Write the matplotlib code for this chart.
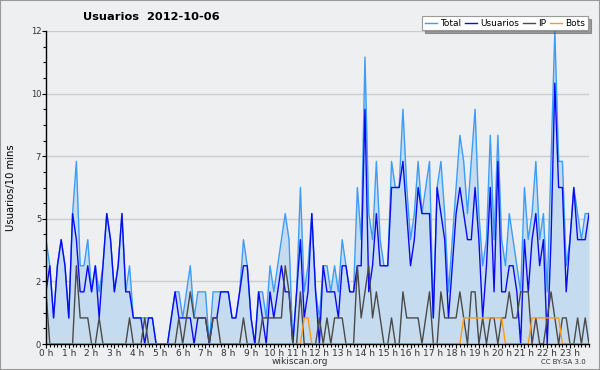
import matplotlib
matplotlib.use("Agg")
import matplotlib.pyplot as plt
import numpy as np

# values per 10 minutes, 144 slots over the day (24 per row = 4 hours)
usuarios = [2, 3, 1, 3, 4, 3, 1, 5, 4, 2, 2, 3, 2, 3, 1, 3, 5, 4, 2, 3, 5, 2, 2, 1,
            1, 1, 0, 1, 1, 0, 0, 0, 0, 1, 2, 1, 1, 1, 1, 0, 1, 1, 1, 0, 1, 1, 2, 2,
            2, 1, 1, 2, 3, 3, 1, 0, 2, 1, 0, 2, 1, 2, 3, 2, 2, 0, 2, 4, 1, 2, 5, 2,
            0, 3, 2, 2, 2, 1, 3, 3, 2, 2, 3, 3, 9, 2, 3, 5, 3, 3, 3, 6, 6, 6, 7, 5,
            3, 4, 6, 5, 5, 5, 1, 6, 5, 4, 1, 3, 5, 6, 5, 4, 4, 6, 4, 1, 3, 6, 2, 7,
            2, 2, 3, 3, 2, 0, 4, 2, 4, 5, 3, 4, 0, 4, 10, 6, 6, 2, 4, 6, 4, 4, 4, 5]
ip = [2, 0, 0, 0, 0, 0, 0, 0, 3, 1, 1, 1, 0, 0, 1, 0, 0, 0, 0, 0, 0, 0, 1, 0,
      0, 0, 1, 0, 0, 0, 0, 0, 0, 0, 0, 1, 0, 1, 2, 1, 1, 1, 1, 0, 1, 1, 0, 0,
      0, 0, 0, 0, 1, 0, 0, 0, 0, 1, 1, 1, 1, 1, 1, 3, 2, 0, 0, 2, 0, 0, 0, 0,
      1, 0, 1, 0, 1, 1, 1, 0, 0, 0, 3, 1, 2, 3, 1, 2, 1, 0, 0, 1, 0, 0, 2, 1,
      1, 1, 1, 0, 1, 2, 0, 0, 2, 1, 1, 1, 1, 2, 1, 0, 2, 2, 0, 1, 0, 1, 1, 0,
      1, 1, 2, 1, 1, 2, 2, 2, 0, 1, 0, 0, 1, 2, 1, 0, 1, 1, 0, 0, 1, 0, 1, 0]
bots = [0, 0, 0, 0, 0, 0, 0, 0, 0, 0, 0, 0, 0, 0, 0, 0, 0, 0, 0, 0, 0, 0, 0, 0,
        0, 0, 0, 0, 0, 0, 0, 0, 0, 0, 0, 0, 0, 0, 0, 0, 0, 0, 0, 0, 0, 0, 0, 0,
        0, 0, 0, 0, 0, 0, 0, 0, 0, 0, 0, 0, 0, 0, 0, 0, 0, 0, 0, 0, 1, 1, 0, 0,
        0, 0, 0, 0, 0, 0, 0, 0, 0, 0, 0, 0, 0, 0, 0, 0, 0, 0, 0, 0, 0, 0, 0, 0,
        0, 0, 0, 0, 0, 0, 0, 0, 0, 0, 0, 0, 0, 0, 1, 1, 1, 1, 1, 1, 1, 1, 1, 1,
        1, 0, 0, 0, 0, 0, 0, 0, 1, 1, 1, 1, 1, 1, 1, 1, 0, 0, 0, 0, 0, 0, 0, 0]
total = [4, 3, 1, 3, 4, 3, 1, 5, 7, 3, 3, 4, 2, 3, 2, 3, 5, 4, 2, 3, 5, 2, 3, 1,
         1, 1, 1, 1, 1, 0, 0, 0, 0, 1, 2, 2, 1, 2, 3, 1, 2, 2, 2, 0, 2, 2, 2, 2,
         2, 1, 1, 2, 4, 3, 1, 0, 2, 2, 1, 3, 2, 3, 4, 5, 4, 0, 2, 6, 2, 3, 5, 2,
         1, 3, 3, 2, 3, 2, 4, 3, 2, 2, 6, 4, 11, 5, 4, 7, 4, 3, 3, 7, 6, 6, 9, 6,
         4, 5, 7, 5, 6, 7, 1, 6, 7, 5, 2, 4, 6, 8, 7, 5, 7, 9, 5, 3, 4, 8, 4, 8,
         4, 3, 5, 4, 3, 2, 6, 4, 5, 7, 4, 5, 2, 7, 12, 7, 7, 3, 4, 6, 5, 4, 5, 5]

hour_labels = ["%d h" % h for h in range(24)]
ytick_pos = [0, 2.4, 4.8, 7.2, 9.6, 12]
ytick_labels = ["0", "2", "5", "7", "10", "12"]

bg = "#eeeff1"
plt.rcParams['font.family'] = ['DejaVu Sans']

fig = plt.figure(figsize=(6, 3.7), dpi=100, facecolor=bg)
ax = fig.add_axes([46/600, 26/370, 543/600, 313/370])
ax.set_facecolor(bg)

x = np.arange(len(total)) / 6.0

ax.fill_between(x, 0, total, color="#c5dcf0", lw=0, zorder=1)
ax.plot(x, total, color="#3d9cf5", lw=1.0, label="Total", zorder=3)
ax.plot(x, usuarios, color="#0a0af0", lw=1.0, label="Usuarios", zorder=4)
ax.plot(x, ip, color="#4a4a4a", lw=1.0, label="IP", zorder=5)
ax.plot(x, bots, color="#ff9a10", lw=1.0, label="Bots", zorder=6)

ax.set_xlim(0, x[-1])
ax.set_ylim(0, 12)
ax.set_yticks(ytick_pos)
ax.set_yticklabels(ytick_labels, fontsize=6, color="#333333")
ax.set_yticks(np.arange(0, 12.01, 0.6), minor=True)
ax.set_xticks(np.arange(24))
ax.set_xticklabels(hour_labels, fontsize=6.5, color="#333333")
ax.set_xticks(np.arange(0, 24, 1/6), minor=True)
ax.tick_params(axis="both", which="major", length=3, width=0.8, pad=0.5)
ax.tick_params(axis="both", which="minor", length=2, width=0.8)
ax.yaxis.grid(True, color="#cccccc", lw=1.0, zorder=0)
ax.set_axisbelow(True)
for s in ["top", "right"]:
    ax.spines[s].set_visible(False)
for s in ["left", "bottom"]:
    ax.spines[s].set_linewidth(1.0)
    ax.spines[s].set_color("black")
    ax.spines[s].set_zorder(7)

ax.set_ylabel("Usuarios/10 mins", fontsize=7.2)
ax.yaxis.set_label_coords(-30/543, 0.5)
fig.text(151/600, 1 - 17/370, "Usuarios  2012-10-06", fontsize=8.2,
         fontweight="bold", ha="center", va="center")
fig.text(300/600, 1 - 362/370, "wikiscan.org", fontsize=6.5, ha="center",
         va="center", color="#333333")
fig.text(586/600, 1 - 362/370, "CC BY-SA 3.0", fontsize=5, ha="right",
         va="center", color="#333333")

leg = fig.legend(loc="upper right", bbox_to_anchor=(588/600, 1 - 16/370),
                 ncol=4, fontsize=6.5, frameon=True, shadow=True, fancybox=False,
                 handlelength=1.3, handletextpad=0.4, columnspacing=0.4,
                 borderpad=0.3, borderaxespad=0)
leg.get_frame().set_edgecolor("#999999")
leg.get_frame().set_linewidth(0.8)

fig.patches.append(plt.Rectangle((0, 0), 1, 1, transform=fig.transFigure,
                                 fill=False, edgecolor="#999999", lw=1.5))

fig.savefig("out.png", dpi=100, facecolor=bg)
